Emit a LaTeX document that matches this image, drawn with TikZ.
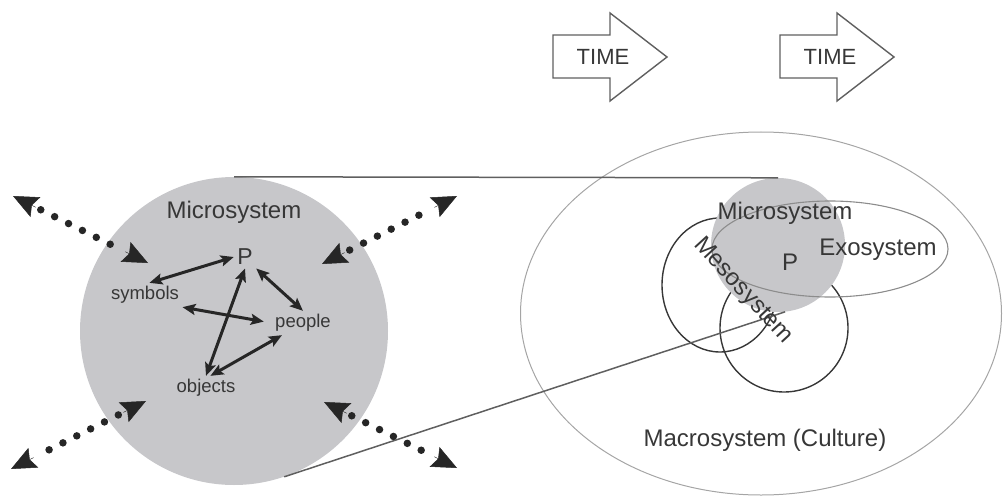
\documentclass[tikz,border=0pt]{standalone}
\usepackage{fontspec}
\setmainfont{Liberation Sans}
\usetikzlibrary{arrows.meta,calc}

\definecolor{microgray}{RGB}{199,199,202}
\definecolor{labelgray}{RGB}{55,55,55}
\definecolor{linegray}{RGB}{95,95,95}
\definecolor{macrogray}{RGB}{165,165,165}
\definecolor{exogray}{RGB}{140,140,140}

\tikzset{
  bighead/.tip={Stealth[length=25pt,width=22pt,inset=4pt]},
  smallhead/.tip={Stealth[length=13pt,width=11pt,inset=2.5pt]},
  dotline/.style={black!85, line width=7.5pt, dash pattern=on 0pt off 15.5pt,
    line cap=round, shorten <=31pt, shorten >=31pt},
  headline/.style={black!85, line width=0.5pt, -bighead},
  linkarrow/.style={black!85, line width=3pt, smallhead-smallhead},
  timearrow/.style={linegray, line width=1.4pt, line join=miter}
}

\begin{document}
\begin{tikzpicture}[x=1pt,y=-1pt,text=labelgray,
    font=\fontsize{24}{28}\selectfont]
  \useasboundingbox (0,0) rectangle (1003,497);

  % time
  \node (t1) at (603,57) {\fontsize{22}{26}\selectfont TIME};
  \node (t2) at (830,57) {\fontsize{22}{26}\selectfont TIME};
  \draw[timearrow, shift={(t1.center)}] (-50,-22) -- (7,-22) -- (7,-44)
    -- (64,0) -- (7,44) -- (7,21) -- (-50,21) -- cycle;
  \draw[timearrow, shift={(t2.center)}] (-50,-22) -- (7,-22) -- (7,-44)
    -- (64,0) -- (7,44) -- (7,21) -- (-50,21) -- cycle;

  % macro, meso
  \draw[macrogray, line width=1pt] (761,313.5) ellipse [x radius=240.5, y radius=181.5];
  \draw[labelgray, line width=1.4pt] (720,285) ellipse [x radius=58, y radius=67];
  \draw[labelgray, line width=1.4pt] (784,328) circle [radius=64];

  \begin{scope}[every node/.style={circle,fill=microgray,inner sep=0pt}]
    \node[minimum size=308pt] (micro) at (234,331) {};
    \node[minimum size=134pt] (mini)  at (778,245) {};
  \end{scope}

  % exo
  \draw[exogray, line width=1.1pt] (830,249) ellipse [x radius=118, y radius=48];

  \draw[linegray, line width=1.5pt] (micro.north) -- (mini.north);
  \draw[linegray, line width=1.5pt] (micro.-71) -- (mini.-84);

  % right side
  \node (m2) at (785,213) {Microsystem};
  \node (p2) at (790,262) {P};
  \node (exo) at (878,250) {Exosystem};
  \node[rotate=-47.6] (meso) at (743,291) {Mesosystem};
  \node (macro) at (765,440) {Macrosystem (Culture)};

  % left side
  \node (m1) at (234,212) {Microsystem};
  \node (P) at (245,257) {\fontsize{23}{26}\selectfont P};
  \begin{scope}[every node/.style={font=\fontsize{18.5}{20}\selectfont}]
    \node (s) at (145,295) {symbols};
    \node (pe) at (303,323) {people};
    \node (o) at (206,388) {objects};
  \end{scope}

  \begin{scope}[every edge/.style={draw,linkarrow}]
    \path (s.70) edge (P.west);
    \path (P.south east) edge (pe.north);
    \path (s.south east) edge[shorten >=8pt] (pe.west);
    \path (P.south) edge (o.north);
    \path (pe.210) edge (o.70);
  \end{scope}

  % outside influences
  \coordinate (ul1) at (13,196);  \coordinate (ul2) at (148,263);
  \coordinate (ur1) at (322,264); \coordinate (ur2) at (457,196);
  \coordinate (ll1) at (146,401); \coordinate (ll2) at (11,469);
  \coordinate (lr1) at (324,402); \coordinate (lr2) at (457,468);
  \draw[dotline] (ul1) -- (ul2);
  \draw[headline] ($(ul1)!25.3pt!(ul2)$) -- (ul1);
  \draw[headline] ($(ul2)!25.3pt!(ul1)$) -- (ul2);
  \draw[dotline] (ur1) -- (ur2);
  \draw[headline] ($(ur1)!25.3pt!(ur2)$) -- (ur1);
  \draw[headline] ($(ur2)!25.3pt!(ur1)$) -- (ur2);
  \draw[dotline] (ll1) -- (ll2);
  \draw[headline] ($(ll1)!25.3pt!(ll2)$) -- (ll1);
  \draw[headline] ($(ll2)!25.3pt!(ll1)$) -- (ll2);
  \draw[dotline] (lr1) -- (lr2);
  \draw[headline] ($(lr1)!25.3pt!(lr2)$) -- (lr1);
  \draw[headline] ($(lr2)!25.3pt!(lr1)$) -- (lr2);

\end{tikzpicture}
\end{document}
